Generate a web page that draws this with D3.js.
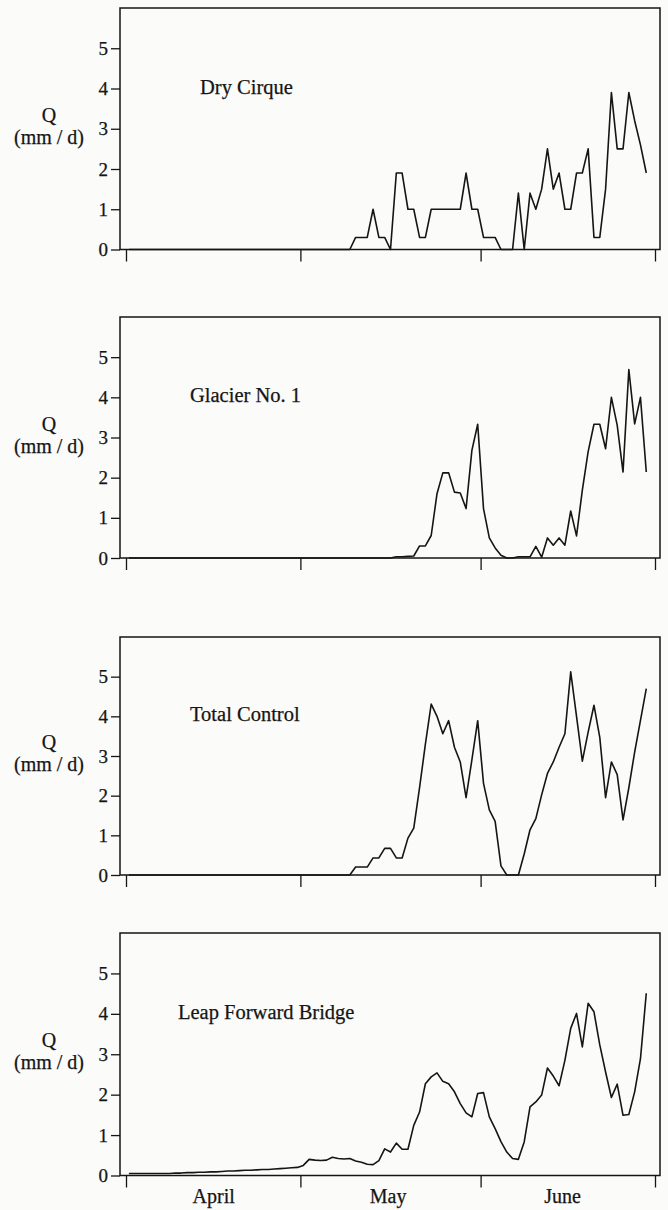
<!DOCTYPE html>
<html>
<head>
<meta charset="utf-8">
<script src="https://cdn.jsdelivr.net/npm/d3@7"></script>
<style>
	body { margin: 0; background: #fbfbf9; }
	svg { display: block; font-family: "Liberation Serif", "Times New Roman", serif; }
	text { fill: #151515; stroke: #151515; stroke-width: 0.25; }
	.axis line { stroke: #151515; stroke-width: 1.3; }
</style>
</head>
<body>
<svg id="chart" width="668" height="1210"></svg>
<script>
// day 0 = 1 April, one value per day up to 29 June
const dayIndex = d3.range(90);

const monthStarts = ["04-01", "05-01", "06-01", "07-01"];
const monthLabels = ["April", "May", "June"];
const monthLabelDays = ["04-16", "05-16", "06-15"];
const yTicks = [0, 1, 2, 3, 4, 5];

const stationNames = ["Dry Cirque", "Glacier No. 1", "Total Control", "Leap Forward Bridge"];

const dryCirque = [
	0, 0, 0, 0, 0, 0, 0, 0, 0, 0, 0, 0, 0, 0, 0, 0, 0, 0, 0, 0,
	0, 0, 0, 0, 0, 0, 0, 0, 0, 0, 0, 0, 0, 0, 0, 0, 0, 0, 0, 0.3,
	0.3, 0.3, 1.0, 0.3, 0.3, 0, 1.9, 1.9, 1.0, 1.0, 0.3, 0.3, 1.0, 1.0, 1.0, 1.0, 1.0, 1.0, 1.9, 1.0,
	1.0, 0.3, 0.3, 0.3, 0, 0, 0, 1.4, 0, 1.4, 1.0, 1.5, 2.5, 1.5, 1.9, 1.0, 1.0, 1.9, 1.9, 2.5,
	0.3, 0.3, 1.5, 3.9, 2.5, 2.5, 3.9, 3.2, 2.6, 1.9
];

const glacierNo1 = [
	0, 0, 0, 0, 0, 0, 0, 0, 0, 0, 0, 0, 0, 0, 0, 0, 0, 0, 0, 0,
	0, 0, 0, 0, 0, 0, 0, 0, 0, 0, 0, 0, 0, 0, 0, 0, 0, 0, 0, 0,
	0, 0, 0, 0, 0, 0, 0.03, 0.03, 0.04, 0.05, 0.3, 0.3, 0.56, 1.6, 2.12, 2.12, 1.64, 1.62, 1.23, 2.68,
	3.33, 1.23, 0.5, 0.25, 0.07, 0, 0, 0.03, 0.03, 0.03, 0.29, 0.02, 0.5, 0.32, 0.5, 0.32, 1.17, 0.55, 1.69, 2.65,
	3.33, 3.33, 2.72, 4.0, 3.3, 2.14, 4.69, 3.34, 4.0, 2.14
];

const totalControl = [
	0, 0, 0, 0, 0, 0, 0, 0, 0, 0, 0, 0, 0, 0, 0, 0, 0, 0, 0, 0,
	0, 0, 0, 0, 0, 0, 0, 0, 0, 0, 0, 0, 0, 0, 0, 0, 0, 0, 0, 0.2,
	0.2, 0.2, 0.43, 0.43, 0.67, 0.67, 0.43, 0.43, 0.93, 1.18, 2.2, 3.3, 4.31, 4.0, 3.56, 3.89, 3.22, 2.85, 1.95, 2.9,
	3.89, 2.31, 1.64, 1.35, 0.23, 0, 0, 0, 0.53, 1.14, 1.42, 2.02, 2.56, 2.85, 3.22, 3.56, 5.12, 4.0, 2.87, 3.6,
	4.28, 3.47, 1.95, 2.85, 2.53, 1.39, 2.2, 3.1, 3.9, 4.7
];

const leapForward = [
	0.05, 0.05, 0.05, 0.05, 0.05, 0.05, 0.05, 0.05, 0.06, 0.06, 0.07, 0.07, 0.08, 0.08, 0.09, 0.09, 0.10, 0.11, 0.11, 0.12,
	0.13, 0.13, 0.14, 0.15, 0.15, 0.16, 0.17, 0.18, 0.19, 0.20, 0.25, 0.4, 0.38, 0.37, 0.38, 0.45, 0.42, 0.41, 0.42, 0.36,
	0.33, 0.28, 0.27, 0.37, 0.66, 0.58, 0.80, 0.65, 0.65, 1.24, 1.57, 2.27, 2.44, 2.54, 2.33, 2.27, 2.07, 1.78, 1.55, 1.45,
	2.03, 2.05, 1.45, 1.16, 0.84, 0.58, 0.42, 0.40, 0.83, 1.70, 1.82, 1.99, 2.66, 2.46, 2.22, 2.85, 3.64, 4.01, 3.18, 4.26,
	4.05, 3.23, 2.56, 1.93, 2.26, 1.49, 1.51, 2.07, 2.89, 4.51
];

const seriesValues = [dryCirque, glacierNo1, totalControl, leapForward];

// panel placement on the page
const panelLayout = [
	{ top: 8, zero: 249.5, titleX: 200 },
	{ top: 317, zero: 558, titleX: 190 },
	{ top: 637, zero: 875, titleX: 190 },
	{ top: 933, zero: 1175.5, titleX: 178 }
];
const boxLeft = 120, boxRight = 660;

const parseDay = d3.timeParse("%Y-%m-%d");
const toDate = s => parseDay("1990-" + s);
const dayToDate = d => d3.timeHour.offset(d3.timeDay.offset(toDate("04-01"), d), 12);

const svg = d3.select("#chart");

const x = d3.scaleTime()
	.domain([toDate("04-01"), toDate("07-01")])
	.range([126, 655]);

const line = d3.line()
	.x(d => x(dayToDate(d[0])))
	.y(d => d[2](d[1]));

seriesValues.forEach((values, i) => {
	let p = panelLayout[i];
	let g = svg.append("g");

	let y = d3.scaleLinear()
		.domain([0, 6])
		.range([p.zero, p.top]);

	// frame
	g.append("rect")
		.attr("x", boxLeft)
		.attr("y", p.top)
		.attr("width", boxRight - boxLeft)
		.attr("height", p.zero - p.top)
		.attr("fill", "none")
		.attr("stroke", "#151515")
		.attr("stroke-width", 1.5);

	// y axis
	let yAxisG = g.append("g")
		.attr("class", "axis")
		.attr("transform", `translate(${boxLeft},0)`)
		.call(d3.axisLeft(y).tickValues(yTicks).tickSize(9).tickPadding(3).tickFormat(d3.format("d")))
		.attr("font-family", null)
		.attr("font-size", 19);
	yAxisG.select(".domain").remove();

	// x axis ticks
	let xAxisG = g.append("g")
		.attr("class", "axis")
		.attr("transform", `translate(0,${p.zero})`)
		.call(d3.axisBottom(x).tickValues(monthStarts.map(toDate)).tickSize(12).tickFormat(""));
	xAxisG.select(".domain").remove();

	if (i === seriesValues.length - 1) {
		let labelG = g.append("g")
			.attr("class", "axis")
			.attr("transform", `translate(0,${p.zero})`)
			.call(d3.axisBottom(x).tickValues(monthLabelDays.map(toDate)).tickSize(0).tickPadding(13)
				.tickFormat((d, k) => monthLabels[k]))
			.attr("font-family", null)
			.attr("font-size", 20);
		labelG.select(".domain").remove();
	}

	// axis title
	g.append("text")
		.attr("x", 49)
		.attr("y", y(3) - 7)
		.attr("text-anchor", "middle")
		.attr("font-size", 20)
		.text("Q");
	g.append("text")
		.attr("x", 49)
		.attr("y", y(3) + 15)
		.attr("text-anchor", "middle")
		.attr("font-size", 20)
		.text("(mm / d)");

	// station name
	g.append("text")
		.attr("x", p.titleX)
		.attr("y", y(4) + 5)
		.attr("font-size", 20.5)
		.text(stationNames[i]);

	g.append("path")
		.datum(dayIndex.map(d => [d, values[d], y]))
		.attr("fill", "none")
		.attr("stroke", "#151515")
		.attr("stroke-width", 1.6)
		.attr("stroke-linejoin", "round")
		.attr("d", line);
});
</script>
</body>
</html>
